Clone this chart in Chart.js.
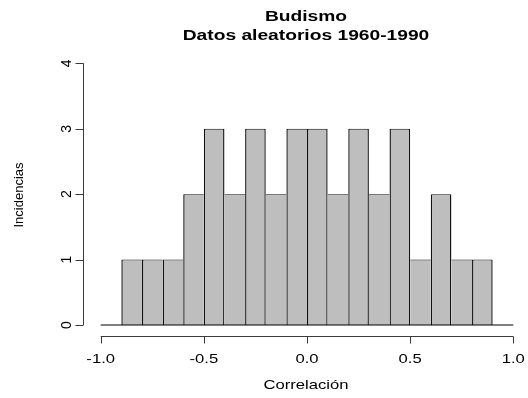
<!DOCTYPE html>
<html>
<head>
<meta charset="utf-8">
<script src="https://cdn.jsdelivr.net/npm/chart.js@4/dist/chart.umd.min.js"></script>
<style>
  html, body { margin: 0; padding: 0; background: #ffffff; }
  canvas { display: block; }
</style>
</head>
<body>
<canvas id="c" width="528" height="398"></canvas>
<script>
// ---- data ----
const binEdges = [-1.0, -0.9, -0.8, -0.7, -0.6, -0.5, -0.4, -0.3, -0.2, -0.1, 0.0,
                  0.1, 0.2, 0.3, 0.4, 0.5, 0.6, 0.7, 0.8, 0.9, 1.0];
const counts = [0, 1, 1, 1, 2, 3, 2, 3, 2, 3, 3, 2, 3, 2, 3, 1, 2, 1, 1, 0];
const xTicks = [-1.0, -0.5, 0.0, 0.5, 1.0];
const xTickLabels = ['-1.0', '-0.5', '0.0', '0.5', '1.0'];
const yTicks = [0, 1, 2, 3, 4];
const yTickLabels = ['0', '1', '2', '3', '4'];
const titleLines = ['Budismo', 'Datos aleatorios 1960-1990'];
const xTitle = 'Correlación';
const yTitle = 'Incidencias';

const binMids = counts.map((c, i) => +(((binEdges[i] + binEdges[i + 1]) / 2).toFixed(3)));
const barData = counts.map((c, i) => ({ x: binMids[i], y: c }));
const baseData = [{ x: binEdges[0], y: 0 }, { x: binEdges[binEdges.length - 1], y: 0 }];

const FONT = "'Liberation Sans', Arial, Helvetica, sans-serif";
const SX = 1.28; // horizontal text stretch seen in the reference

function hText(ctx, text, x, y, font, align, sx) {
  ctx.save();
  ctx.font = font;
  ctx.textAlign = align;
  ctx.textBaseline = 'alphabetic';
  ctx.translate(x, y);
  ctx.scale(sx, 1);
  ctx.fillText(text, 0, 0);
  ctx.restore();
}
function vText(ctx, text, x, y, font) {
  ctx.save();
  ctx.font = font;
  ctx.textAlign = 'center';
  ctx.textBaseline = 'alphabetic';
  ctx.translate(x, y);
  ctx.rotate(-Math.PI / 2);
  ctx.fillText(text, 0, 0);
  ctx.restore();
}

const rAxes = {
  id: 'rAxes',
  afterDraw(chart) {
    const ctx = chart.ctx;
    const xs = chart.scales.x, ys = chart.scales.y;
    const area = chart.chartArea;
    ctx.save();
    ctx.strokeStyle = '#3a3a3a';
    ctx.lineWidth = 1;
    // x axis
    const y0 = Math.round(area.bottom) - 0.5;
    const xa = xs.getPixelForValue(xTicks[0]);
    const xb = xs.getPixelForValue(xTicks[xTicks.length - 1]);
    ctx.beginPath();
    ctx.moveTo(xa, y0); ctx.lineTo(xb, y0);
    xTicks.forEach(v => {
      const px = Math.round(xs.getPixelForValue(v)) + 0.5;
      ctx.moveTo(px, y0); ctx.lineTo(px, y0 + 7);
    });
    ctx.stroke();
    // y axis
    const x0 = Math.round(area.left) - 0.5;
    const ya = ys.getPixelForValue(yTicks[0]);
    const yb = ys.getPixelForValue(yTicks[yTicks.length - 1]);
    ctx.beginPath();
    ctx.moveTo(x0, ya); ctx.lineTo(x0, yb);
    yTicks.forEach(v => {
      const py = Math.round(ys.getPixelForValue(v)) + 0.5;
      ctx.moveTo(x0, py); ctx.lineTo(x0 - 8, py);
    });
    ctx.stroke();
    ctx.restore();

    ctx.save();
    ctx.fillStyle = '#000';
    // x tick labels
    xTicks.forEach((v, i) => {
      hText(ctx, xTickLabels[i], xs.getPixelForValue(v), 363, '13px ' + FONT, 'center', SX);
    });
    // y tick labels (rotated)
    yTicks.forEach((v, i) => {
      vText(ctx, yTickLabels[i], 71, ys.getPixelForValue(v), '14px ' + FONT);
    });
    // titles
    const cx = (area.left + area.right) / 2;
    hText(ctx, titleLines[0], cx, 21, 'bold 15px ' + FONT, 'center', SX);
    hText(ctx, titleLines[1], cx, 39.5, 'bold 15px ' + FONT, 'center', SX);
    // axis titles
    hText(ctx, xTitle, cx, 389, '13px ' + FONT, 'center', SX);
    vText(ctx, yTitle, 23, (area.top + area.bottom) / 2, '13px ' + FONT);
    ctx.restore();
  }
};

new Chart(document.getElementById('c'), {
  type: 'bar',
  data: {
    datasets: [
      {
        type: 'line',
        data: baseData,
        borderColor: '#000',
        borderWidth: 1,
        pointRadius: 0,
        order: 0
      },
      {
        type: 'bar',
        data: barData,
        backgroundColor: '#BEBEBE',
        borderColor: '#111',
        borderSkipped: false,
        borderWidth: (c) => {
          const i = c.dataIndex;
          const h = counts[i];
          const prev = i > 0 ? counts[i - 1] : 0;
          const next = i < counts.length - 1 ? counts[i + 1] : 0;
          return { top: 1, bottom: 0, left: h >= prev ? 1.4 : 0, right: h > next ? 1.4 : 0 };
        },
        barPercentage: 1,
        categoryPercentage: 1,
        inflateAmount: 0,
        order: 1
      }
    ]
  },
  options: {
    responsive: false,
    animation: false,
    events: [],
    layout: { padding: { left: 84, right: 0, top: 53, bottom: 61 } },
    scales: {
      x: {
        type: 'linear',
        offset: false,
        min: -1.081,
        max: 1.0713,
        display: false,
        afterBuildTicks: (axis) => { axis.ticks = xTicks.map(v => ({ value: v })); }
      },
      y: {
        type: 'linear',
        min: -0.1835,
        max: 4.16,
        display: false,
        afterBuildTicks: (axis) => { axis.ticks = yTicks.map(v => ({ value: v })); }
      }
    },
    plugins: {
      legend: { display: false },
      tooltip: { enabled: false },
      title: { display: false }
    }
  },
  plugins: [rAxes]
});
</script>
</body>
</html>
